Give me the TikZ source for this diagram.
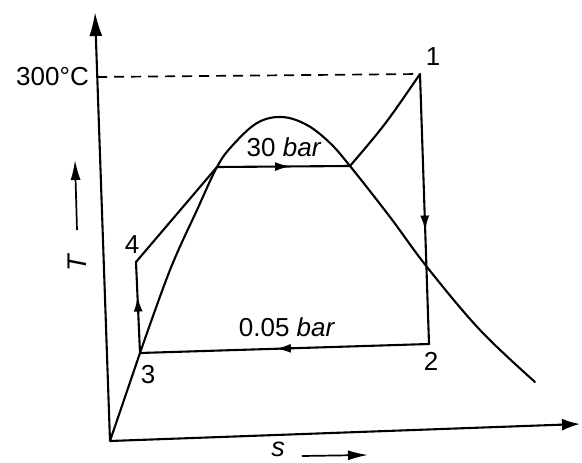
\documentclass[tikz,border=0pt]{standalone}
\usepackage{fontspec}
\setmainfont{Liberation Sans}
\usetikzlibrary{arrows.meta,decorations.markings}
\begin{document}
\begin{tikzpicture}[x=1pt,y=-1pt,
  curve/.style={line width=2.1pt, line join=round, line cap=round},
  axisline/.style={line width=2.1pt},
  midarrow/.style={postaction={decorate}, decoration={markings,
      mark=at position #1 with {\arrow{Latex[length=15pt,width=9pt]}}}},
  lbl/.style={font=\fontsize{26}{30}\selectfont, inner sep=0pt},
  axlbl/.style={font=\fontsize{27}{31}\selectfont\itshape, inner sep=0pt},
  hint/.style={line width=1.7pt, -{Latex[length=20pt,width=10pt]}}
]
\useasboundingbox (0,0) rectangle (582,463);

% key points
\coordinate (O) at (110,441);
\coordinate (Ytop) at (95,12);
\coordinate (Xend) at (580,424);
\coordinate (P1) at (420,74);
\coordinate (P2) at (429,344);
\coordinate (P3) at (140,353);
\coordinate (P4) at (136,262);
\coordinate (A) at (217,167);
\coordinate (B) at (350,166);
\coordinate (Y300) at (97.2,77);
\coordinate (Ta) at (77,230);
\coordinate (Tb) at (75,160);
\coordinate (Sa) at (302,456);
\coordinate (Sb) at (368,455);

% axes
\draw[axisline, -{Latex[length=24pt,width=13pt]}] (O) -- (Ytop);
\draw[axisline, -{Latex[length=18pt,width=12pt]}] (O) -- (Xend);

% 300 C dashed line
\draw[line width=1.7pt, dash pattern=on 10pt off 7pt] (Y300) -- (P1);

% saturation dome
\draw[curve] (O) -- (P3);
\draw[curve] plot[smooth, tension=0.6] coordinates {
  (140,353) (170,270) (197,210) (217,167) (232,146) (257,123) (282,117)
  (307,125) (330,143) (350,166) (390,217) (427,267) (480,330) (535,382)};

% cycle
\draw[curve, midarrow=0.58] (P1) -- (P2);
\draw[curve, midarrow=0.53] (P2) -- (P3);
\draw[curve, midarrow=0.62] (P3) -- (P4);
\draw[curve] (P4) -- (A);
\draw[curve, midarrow=0.55] (A) -- (B);
\draw[curve] (B) .. controls (385,125) .. (P1);

% labels
\node[lbl, anchor=east] (t300) at (89,77) {300°C};
\node[lbl] (l1) at (433,57) {1};
\node[lbl] (l2) at (431,361) {2};
\node[lbl] (l3) at (148,375) {3};
\node[lbl] (l4) at (132,245) {4};
\node[lbl] (p30) at (284,147) {30 \textit{bar}};
\node[lbl] (p005) at (287,327) {0.05 \textit{bar}};

% axis names with hint arrows
\node[axlbl, rotate=90] (T) at (77,263) {T};
\draw[hint] (Ta) -- (Tb);
\node[axlbl] (s) at (278,449) {s};
\draw[hint] (Sa) -- (Sb);
\end{tikzpicture}
\end{document}
